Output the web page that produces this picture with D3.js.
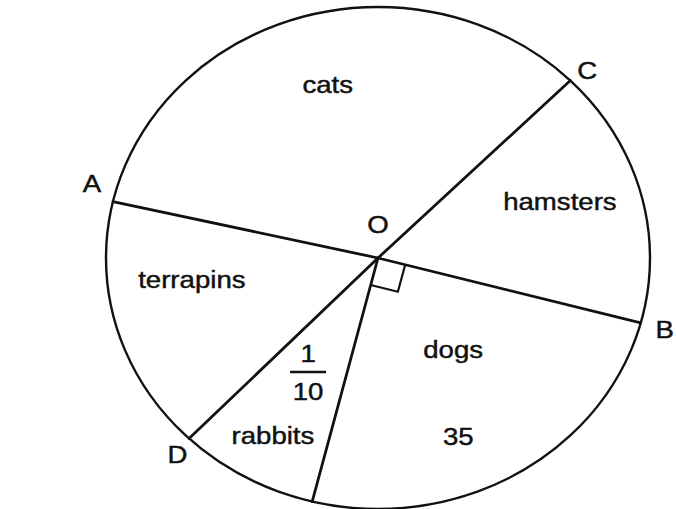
<!DOCTYPE html>
<html>
<head>
<meta charset="utf-8">
<script src="https://cdn.jsdelivr.net/npm/d3@7"></script>
<style>
    html, body { margin: 0; padding: 0; background: #fff; }
    svg { display: block; }
    text { font-family: "Liberation Sans", Arial, sans-serif; font-size: 24px; fill: #111; stroke: #111; stroke-width: 0.45px; }
</style>
</head>
<body>
<script>
// Sectors, clockwise from point A
const categories = ["cats", "hamsters", "dogs", "rabbits", "terrapins"];
const angles = [122, 60, 89, 30, 59];          // degrees
const pointLabels = ["A", "C", "B", "", "D"];   // point on the circle where each sector starts
const notes = { dogs: "35" };
const fractions = { rabbits: ["1", "10"] };
const centreLabel = "O";
const rightAngleAt = "dogs";
const START = 283;                              // degrees, clockwise from 12 o'clock

const WIDTH = 676;
const HEIGHT = 509;
const CX = 378, CY = 258, RX = 272, RY = 251;
const STRETCH = 1.15;   // the scan is wider than it is tall

// where the words sit: angle offset from sector middle and radius fraction
const LABEL_LAYOUT = {
    cats: { da: 1, r: 0.714 },
    hamsters: { da: -3.7, r: 0.706 },
    dogs: { da: -6.5, r: 0.459 },
    rabbits: { da: -0.4, r: 0.807 },
    terrapins: { da: 9.2, r: 0.69 }
};
const NOTE_LAYOUT = { dogs: { da: 8, r: 0.771 } };
const FRACTION_LAYOUT = { rabbits: { da: 0.5, r: 0.522 } };
const POINT_OFFSET = { A: [-21, -18], C: [17, -10], B: [24, 7], D: [-11.5, 16.5] };

const rad = d => d * Math.PI / 180;

const xScale = d3.scaleLinear().domain([-1, 1]).range([CX - RX, CX + RX]);
const yScale = d3.scaleLinear().domain([-1, 1]).range([CY - RY, CY + RY]);
const pt = (a, r) => [xScale(r * Math.sin(a)), yScale(-r * Math.cos(a))];

const data = categories.map((c, i) => ({ name: c, angle: angles[i], point: pointLabels[i] }));
const pie = d3.pie()
    .sort(null)
    .value(d => d.angle)
    .startAngle(rad(START))
    .endAngle(rad(START) + 2 * Math.PI);
const arcs = pie(data);

const svg = d3.select("body").append("svg")
    .attr("width", WIDTH)
    .attr("height", HEIGHT)
    .attr("viewBox", [0, 0, WIDTH, HEIGHT]);

const O = pt(0, 0);

// The circle
svg.append("ellipse")
    .attr("cx", xScale(0))
    .attr("cy", yScale(0))
    .attr("rx", xScale(1) - xScale(0))
    .attr("ry", yScale(1) - yScale(0))
    .style("fill", "none")
    .style("stroke", "#111")
    .style("stroke-width", 2.4);

// Sector edges
svg.append("g")
    .selectAll("line")
    .data(arcs)
    .join("line")
    .attr("x1", O[0])
    .attr("y1", O[1])
    .attr("x2", d => pt(d.startAngle, 1)[0])
    .attr("y2", d => pt(d.startAngle, 1)[1])
    .style("stroke", "#111")
    .style("stroke-width", 2.8)
    .style("stroke-linecap", "round");

// Right angle mark
const ra = arcs.find(d => d.data.name === rightAngleAt);
const SQ = 28;
const unit = a => {
    const p = pt(a, 1);
    const dx = p[0] - O[0], dy = p[1] - O[1];
    const len = Math.hypot(dx, dy);
    return [dx / len, dy / len];
};
const u1 = unit(ra.startAngle), u2 = unit(ra.endAngle);
svg.append("path")
    .attr("d", d3.line()([
        [O[0] + SQ * u1[0], O[1] + SQ * u1[1]],
        [O[0] + SQ * (u1[0] + u2[0]), O[1] + SQ * (u1[1] + u2[1])],
        [O[0] + SQ * u2[0], O[1] + SQ * u2[1]]
    ]))
    .style("fill", "none")
    .style("stroke", "#111")
    .style("stroke-width", 2.2);

function addText(x, y, txt) {
    svg.append("text")
        .attr("transform", `translate(${x},${y}) scale(${STRETCH},1)`)
        .attr("text-anchor", "middle")
        .attr("dy", "0.35em")
        .text(txt);
}

// Sector names
arcs.forEach(d => {
    const lay = LABEL_LAYOUT[d.data.name];
    const mid = (d.startAngle + d.endAngle) / 2 + rad(lay.da);
    const p = pt(mid, lay.r);
    addText(p[0], p[1], d.data.name);

    if (notes[d.data.name]) {
        const nl = NOTE_LAYOUT[d.data.name];
        const q = pt((d.startAngle + d.endAngle) / 2 + rad(nl.da), nl.r);
        addText(q[0], q[1], notes[d.data.name]);
    }

    if (fractions[d.data.name]) {
        const fl = FRACTION_LAYOUT[d.data.name];
        const q = pt((d.startAngle + d.endAngle) / 2 + rad(fl.da), fl.r);
        const f = fractions[d.data.name];
        addText(q[0], q[1] - 18, f[0]);
        svg.append("line")
            .attr("x1", q[0] - 18)
            .attr("x2", q[0] + 18)
            .attr("y1", q[1])
            .attr("y2", q[1])
            .style("stroke", "#111")
            .style("stroke-width", 2.4);
        addText(q[0], q[1] + 20, f[1]);
    }

    // Point letters on the circle
    if (d.data.point) {
        const p0 = pt(d.startAngle, 1);
        const off = POINT_OFFSET[d.data.point];
        addText(p0[0] + off[0], p0[1] + off[1], d.data.point);
    }
});

// Centre
addText(O[0], O[1] - 33, centreLabel);
</script>
</body>
</html>
